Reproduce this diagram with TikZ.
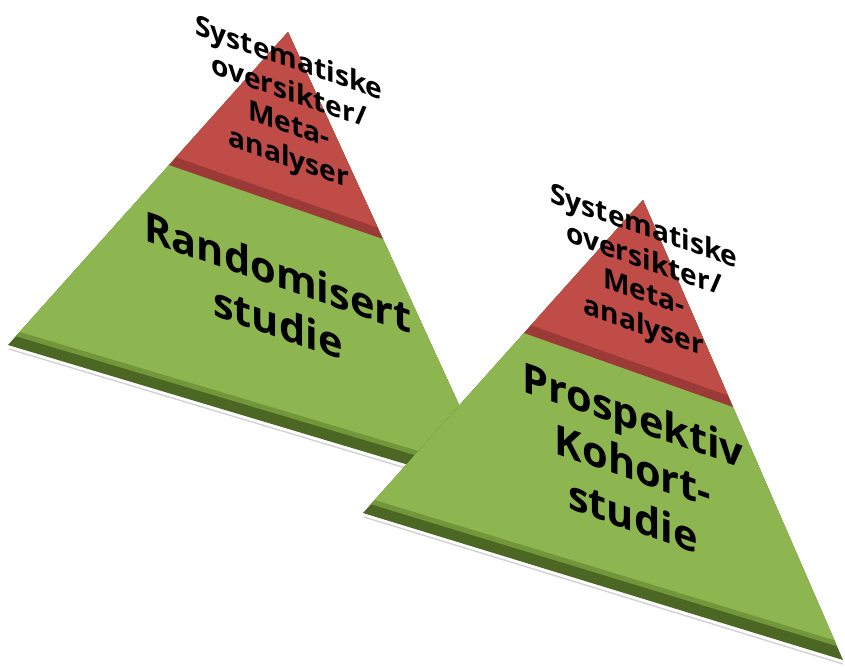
\documentclass[tikz,border=0pt]{standalone}
\usepackage{fontspec}
\setmainfont{Open Sans}
\usetikzlibrary{calc}
\definecolor{facegreen}{RGB}{141,181,80}
\definecolor{bevelgreen}{RGB}{114,150,58}
\definecolor{sidegreen}{RGB}{76,102,36}
\definecolor{facered}{RGB}{192,76,72}
\definecolor{sidered}{RGB}{156,58,55}

\begin{document}
\begin{tikzpicture}[
  x=0.025cm, y=-0.025cm,
  toptext/.style={font=\fontsize{20}{23.5}\selectfont\bfseries, align=center,
    yslant=-0.35, inner sep=0pt},
  lowtext/.style={font=\fontsize{29.5}{36}\selectfont\bfseries, align=center,
    yslant=-0.35, inner sep=0pt},
]
  \useasboundingbox (0,0) rectangle (845,666);

  \foreach \px/\py/\brx/\name/\label in {288/32/211/rand/{Randomisert\\studie},
                                         643/200/200/kohort/{Prospektiv\\Kohort-\\studie}} {
    \begin{scope}[shift={(\px,\py)}]
      \coordinate (\name-A)  at (0,0);
      \coordinate (\name-BL) at (-280,313);
      \coordinate (\name-BR) at (\brx,460);
      \coordinate (\name-bL) at ($(\name-A)!0.972!(\name-BL)$);
      \coordinate (\name-bR) at ($(\name-A)!0.97!(\name-BR)$);
      \coordinate (\name-fL) at ($(\name-A)!0.958!(\name-BL)$);
      \coordinate (\name-fR) at ($(\name-A)!0.957!(\name-BR)$);
      \coordinate (\name-mL) at ($(\name-A)!0.425!(\name-BL)$);
      \coordinate (\name-mR) at ($(\name-A)!0.45!(\name-BR)$);
      \coordinate (\name-rL) at ($(\name-A)!0.40!(\name-BL)$);
      \coordinate (\name-rR) at ($(\name-A)!0.425!(\name-BR)$);

      % faint edge under the base
      \draw[gray!35, line width=1pt] ($(\name-BL)+(1,4)$) -- ($(\name-BR)+(0,4)$);
      % side, bevel and face of the green layer
      \fill[sidegreen]  (\name-A) -- (\name-BL) -- (\name-BR) -- cycle;
      \fill[bevelgreen] (\name-A) -- (\name-bL) -- (\name-bR) -- cycle;
      \fill[facegreen]  (\name-A) -- (\name-fL) -- (\name-fR) -- cycle;
      % red top
      \fill[sidered] (\name-A) -- (\name-mL) -- (\name-mR) -- cycle;
      \fill[facered] (\name-A) -- (\name-rL) -- (\name-rR) -- cycle;

      \node[toptext] (\name-top) at (1,78)
           {Systematiske\\oversikter/\\Meta-\\analyser};
      \node[lowtext] (\name-low) at (-10,265) {\label};
    \end{scope}
  }
\end{tikzpicture}
\end{document}
